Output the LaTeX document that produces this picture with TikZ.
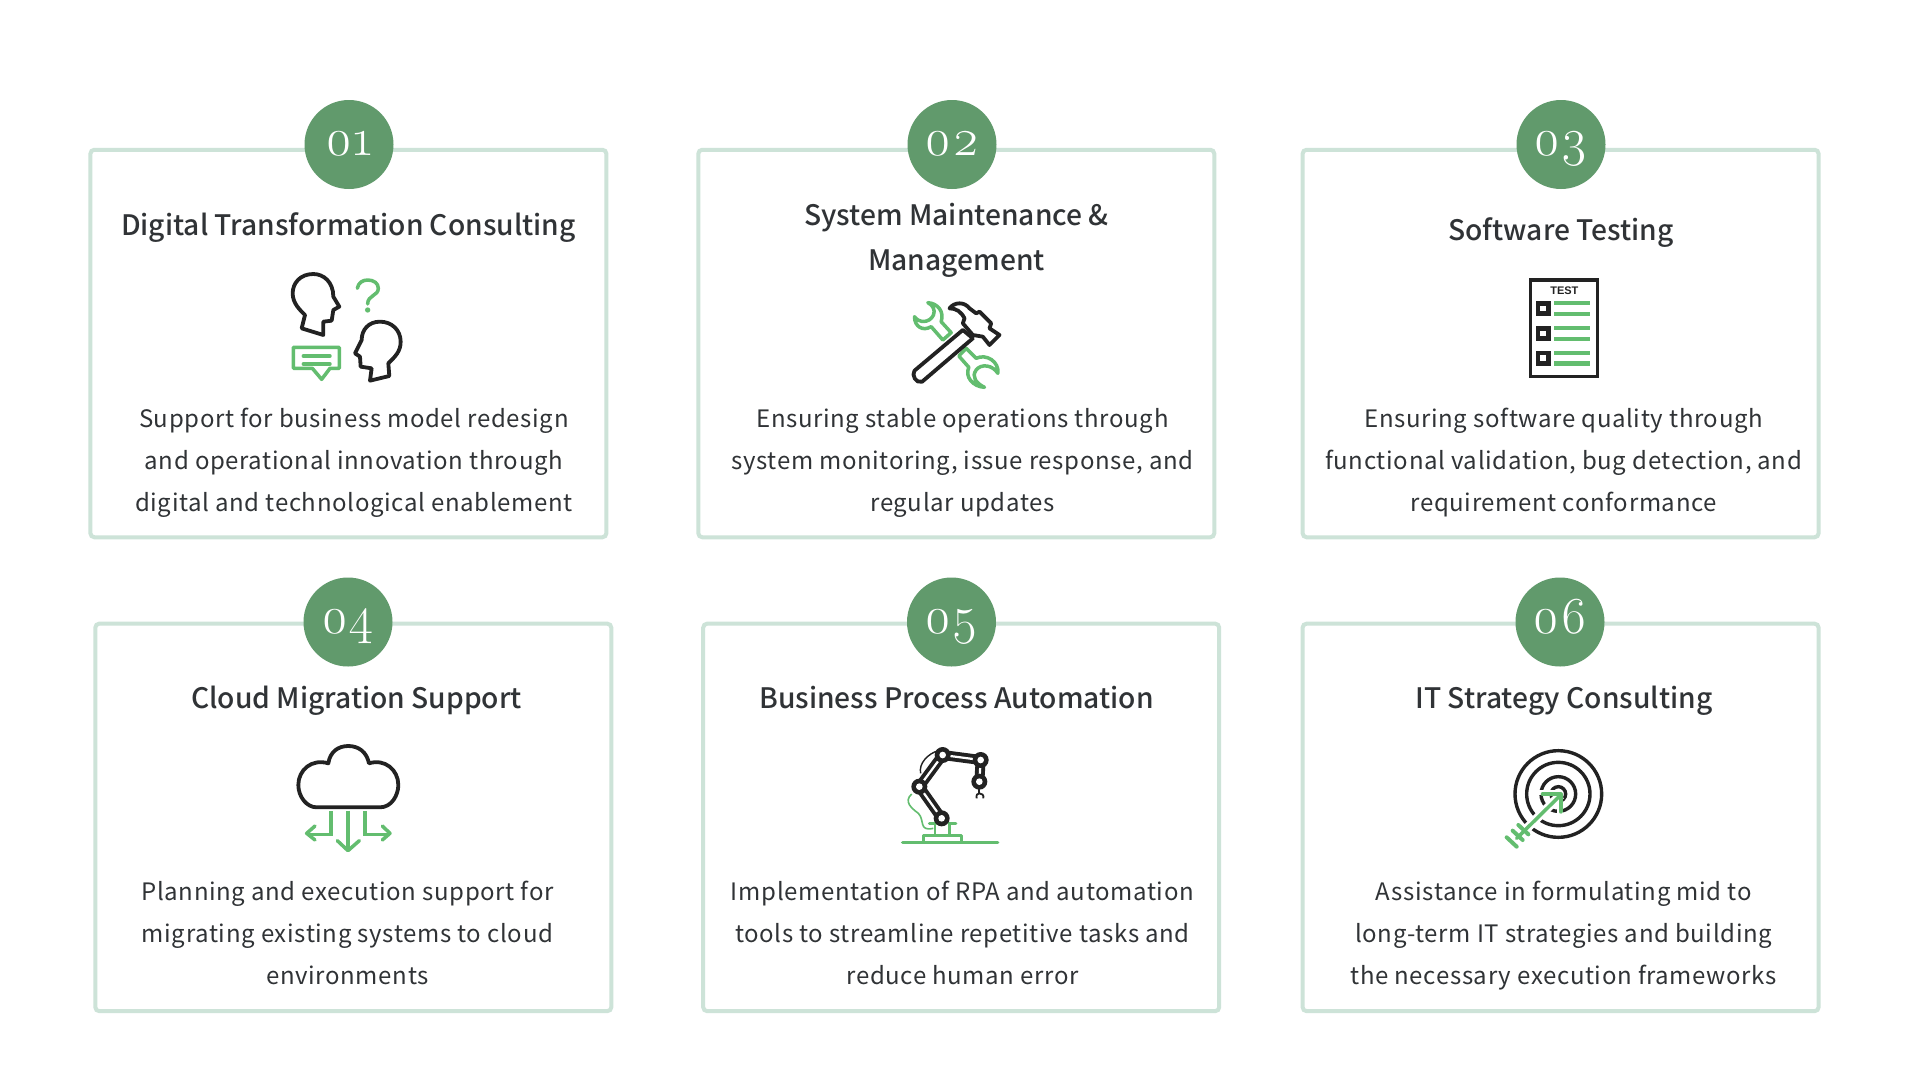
\documentclass[tikz,border=0pt]{standalone}
\usepackage{fontspec}
\setmainfont{Noto Sans CJK JP}
\newfontfamily\titlefont{Noto Sans CJK JP Medium}
\newfontfamily\bodyfont{Noto Sans CJK JP}[LetterSpace=2.7]
\newfontfamily\numfont{Latin Modern Roman}[Numbers=OldStyle]
\newfontfamily\testfont{Liberation Sans}
\definecolor{framegreen}{HTML}{CDE3D8}
\definecolor{discgreen}{HTML}{619A6C}
\definecolor{icongreen}{HTML}{63BD6F}
\definecolor{iconblack}{HTML}{222222}
\definecolor{inkgrey}{HTML}{303336}
\tikzset{
  cardbox/.style={draw=framegreen, line width=4pt, rounded corners=4pt, fill=white, minimum width=516pt, minimum height=387.5pt, inner sep=0pt},
  numdisc/.style={circle, fill=discgreen, text=white, minimum size=89pt, inner sep=0pt, text height=30pt, text depth=8pt, font=\numfont\fontsize{52}{52}\selectfont},
  cardtitle/.style={text=inkgrey, align=center, font=\titlefont\fontsize{28.2}{45.5}\selectfont},
  cardbody/.style={text=inkgrey, align=center, font=\bodyfont\fontsize{24}{42}\selectfont},
  blackline/.style={draw=iconblack, line width=3.8pt, line join=round, line cap=round},
  greenline/.style={draw=icongreen, line width=3.5pt, line join=round, line cap=round},
  zoomed/.style={x=0.3333pt, y=-0.3333pt}
}
\begin{document}
\begin{tikzpicture}[x=1pt, y=-1pt]
\useasboundingbox (0,0) rectangle (1920,1080);
\fill[white] (0,0) rectangle (1920,1080);
% cards
\node[cardbox] (card1) at (348.4,343.5) {};
\node[cardbox] (card2) at (956.3,343.5) {};
\node[cardbox] (card3) at (1560.6,343.5) {};
\node[cardbox] (card4) at (353.3,817.4) {};
\node[cardbox] (card5) at (961.2,817.4) {};
\node[cardbox] (card6) at (1560.6,817.4) {};
% numbers
\node[numdisc] (num1) at (349,144.5) {01};
\node[numdisc] (num2) at (952,144.5) {02};
\node[numdisc] (num3) at (1561,144.5) {03};
\node[numdisc] (num4) at (348,622) {04};
\node[numdisc] (num5) at (951.5,622) {05};
\node[numdisc] (num6) at (1560,622) {06};
% titles
\node[cardtitle] (title1) at (348.4,228) {Digital Transformation Consulting};
\node[cardtitle] (title2) at (956.5,240.5) {System Maintenance \&\\Management};
\node[cardtitle] (title3) at (1561,233) {Software Testing};
\node[cardtitle] (title4) at (356.5,701) {Cloud Migration Support};
\node[cardtitle] (title5) at (956.5,698) {Business Process Automation};
\node[cardtitle] (title6) at (1564,701) {IT Strategy Consulting};
% body text
\node[cardbody] (body1) at (353.9,463) {Support for business model redesign\\and operational innovation through\\digital and technological enablement};
\node[cardbody] (body2) at (962.5,463) {Ensuring stable operations through\\system monitoring, issue response, and\\regular updates};
\node[cardbody] (body3) at (1563.7,463) {Ensuring software quality through\\functional validation, bug detection, and\\requirement conformance};
\node[cardbody] (body4) at (347.5,933) {Planning and execution support for\\migrating existing systems to cloud\\environments};
\node[cardbody] (body5) at (962.5,933) {Implementation of RPA and automation\\tools to streamline repetitive tasks and\\reduce human error};
\node[cardbody] (body6) at (1563.7,935.5) {Assistance in formulating mid to\\long-term IT strategies and building\\the necessary execution frameworks};
% icon 1
\begin{scope}[shift={(270,260)}, zoomed]
\draw[blackline] (95,205) -- (160,225) -- (160,185) -- (185,182) -- (190,150) -- (208,140) -- (190,110) .. controls (190,65) and (160,42) .. (130,42) .. controls (90,42) and (68,70) .. (68,100) .. controls (68,130) and (90,150) .. (105,165) -- cycle;
\draw[blackline] (300,362) -- (358,348) -- (355,310) .. controls (375,290) and (392,275) .. (392,245) .. controls (392,210) and (365,185) .. (330,185) .. controls (295,185) and (275,210) .. (275,240) -- (255,280) -- (270,290) -- (272,320) -- (305,325) -- cycle;
\draw[greenline] (262,85) .. controls (265,68) and (278,60) .. (293,60) .. controls (312,60) and (325,70) .. (325,85) .. controls (325,108) and (293,105) .. (293,132);
\fill[icongreen] (293,150) circle (8);
\draw[greenline] (70,262) -- (208,262) -- (208,325) -- (180,325) -- (155,358) -- (127,325) -- (70,325) -- cycle;
\draw[greenline] (100,288) -- (180,288);
\draw[greenline] (100,312) -- (180,312);
\end{scope}
% icon 2
\begin{scope}[shift={(879.5,280)}, zoomed]
\draw[greenline] (145,68) .. controls (175,70) and (195,95) .. (185,125) -- (215,158) -- (190,180) -- (155,140) .. controls (130,155) and (105,140) .. (105,110) .. controls (118,130) and (150,130) .. (162,105) .. controls (168,90) and (160,75) .. (145,68) -- cycle;
\draw[greenline] (260,205) -- (238,228) -- (268,262) .. controls (255,290) and (280,320) .. (315,322) .. controls (290,310) and (275,290) .. (290,270) .. controls (305,250) and (340,255) .. (355,280) .. controls (360,245) and (320,220) .. (290,235) -- cycle;
\draw[blackline] (250,150) -- (105,272) .. controls (95,285) and (110,312) .. (128,305) -- (280,175);
\draw[blackline] (250,150) -- (280,175);
\draw[blackline] (210,85) .. controls (225,65) and (255,65) .. (270,85) -- (290,100) -- (300,95) -- (335,130) -- (330,145) -- (360,165) -- (330,195) -- (310,170) -- (280,165) -- (250,130) -- (255,115) .. controls (245,95) and (230,85) .. (210,85) -- cycle;
\end{scope}
% icon 3
\begin{scope}[shift={(1500,270)}, zoomed]
\draw[iconblack, line width=3.6pt] (92,30) rectangle (292,320);
\node[text=iconblack, font=\testfont\bfseries\fontsize{11}{11}\selectfont] (testlabel) at (193,63) {TEST};
\foreach \rowy in {116,191,265} {
  \draw[iconblack, line width=4.4pt] (114,\rowy-16) rectangle (146,\rowy+15);
  \fill[icongreen] (163,\rowy-23) rectangle (270,\rowy-10);
  \fill[icongreen] (163,\rowy+9) rectangle (270,\rowy+22);
}
\end{scope}
% icon 4
\begin{scope}[shift={(270,730)}, zoomed]
\draw[blackline] (140,232) -- (330,232) .. controls (365,232) and (385,195) .. (385,165) .. controls (385,120) and (345,85) .. (297,100) .. controls (290,65) and (265,48) .. (235,48) .. controls (205,48) and (180,65) .. (175,100) .. controls (125,85) and (85,120) .. (85,165) .. controls (85,200) and (110,232) .. (140,232) -- cycle;
\draw[greenline, line cap=butt] (234,242) -- (234,358);
\draw[greenline] (202,332) -- (234,362) -- (268,332);
\draw[greenline, line cap=butt, line join=miter] (183,243) -- (183,313) -- (115,313);
\draw[greenline] (135,288) -- (110,310) -- (135,330);
\draw[greenline, line cap=butt, line join=miter] (285,243) -- (285,313) -- (355,313);
\draw[greenline] (337,288) -- (360,310) -- (337,330);
\end{scope}
% icon 5
\begin{scope}[shift={(890,740)}, zoomed]
\draw[icongreen, line width=3.6pt, line cap=round] (38,308) -- (323,308);
\draw[icongreen, line width=3pt, line join=round] (100,305) -- (100,285) -- (215,285) -- (215,305);
\draw[icongreen, line width=2.8pt, line cap=round] (118,250) -- (140,250) -- (135,250) -- (135,282);
\draw[icongreen, line width=2.8pt, line cap=round] (198,250) -- (178,250) -- (178,282);
\draw[icongreen, line width=1.6pt] (65,162) .. controls (40,185) and (65,205) .. (85,220) .. controls (105,240) and (85,275) .. (130,265);
\draw[iconblack, line width=1.4pt] (92,100) .. controls (85,70) and (115,40) .. (145,32);
\foreach \fromx/\fromy/\tox/\toy in {155/235/88/140, 88/140/158/45, 158/45/272/60, 272/60/268/125} {
  \draw[iconblack, line width=10pt] (\fromx,\fromy) -- (\tox,\toy);
  \draw[white, line width=2.2pt] (\fromx,\fromy) -- (\tox,\toy);
}
\foreach \jointx/\jointy in {155/235, 88/140, 158/45, 272/60, 268/125} {
  \fill[iconblack] (\jointx,\jointy) circle (24);
  \fill[white] (\jointx,\jointy) circle (10);
}
\draw[iconblack, line width=1.8pt] (268,145) -- (268,160);
\draw[iconblack, line width=1.8pt] (260,175) .. controls (258,165) and (262,160) .. (268,160) .. controls (276,160) and (282,165) .. (280,175);
\end{scope}
% icon 6
\begin{scope}[shift={(1500,740)}, zoomed]
\draw[iconblack, line width=3.4pt] (175,162) circle (130);
\draw[iconblack, line width=3.4pt] (175,162) circle (95);
\draw[iconblack, line width=3.4pt] (175,162) circle (52);
\draw[iconblack, line width=3.4pt] (175,162) circle (22);
\draw[white, line width=9pt] (182,165) -- (50,295);
\fill[white] (115,150) rectangle (182,165);
\fill[white] (170,160) rectangle (190,225);
\draw[greenline] (182,165) -- (50,295);
\draw[greenline, line width=4pt] (128,163) -- (182,163) -- (182,215);
\draw[greenline, line width=4pt] (55,255) -- (85,283);
\draw[greenline, line width=4pt] (38,272) -- (68,300);
\draw[greenline, line width=4pt] (20,292) -- (50,320);
\end{scope}
\end{tikzpicture}
\end{document}
